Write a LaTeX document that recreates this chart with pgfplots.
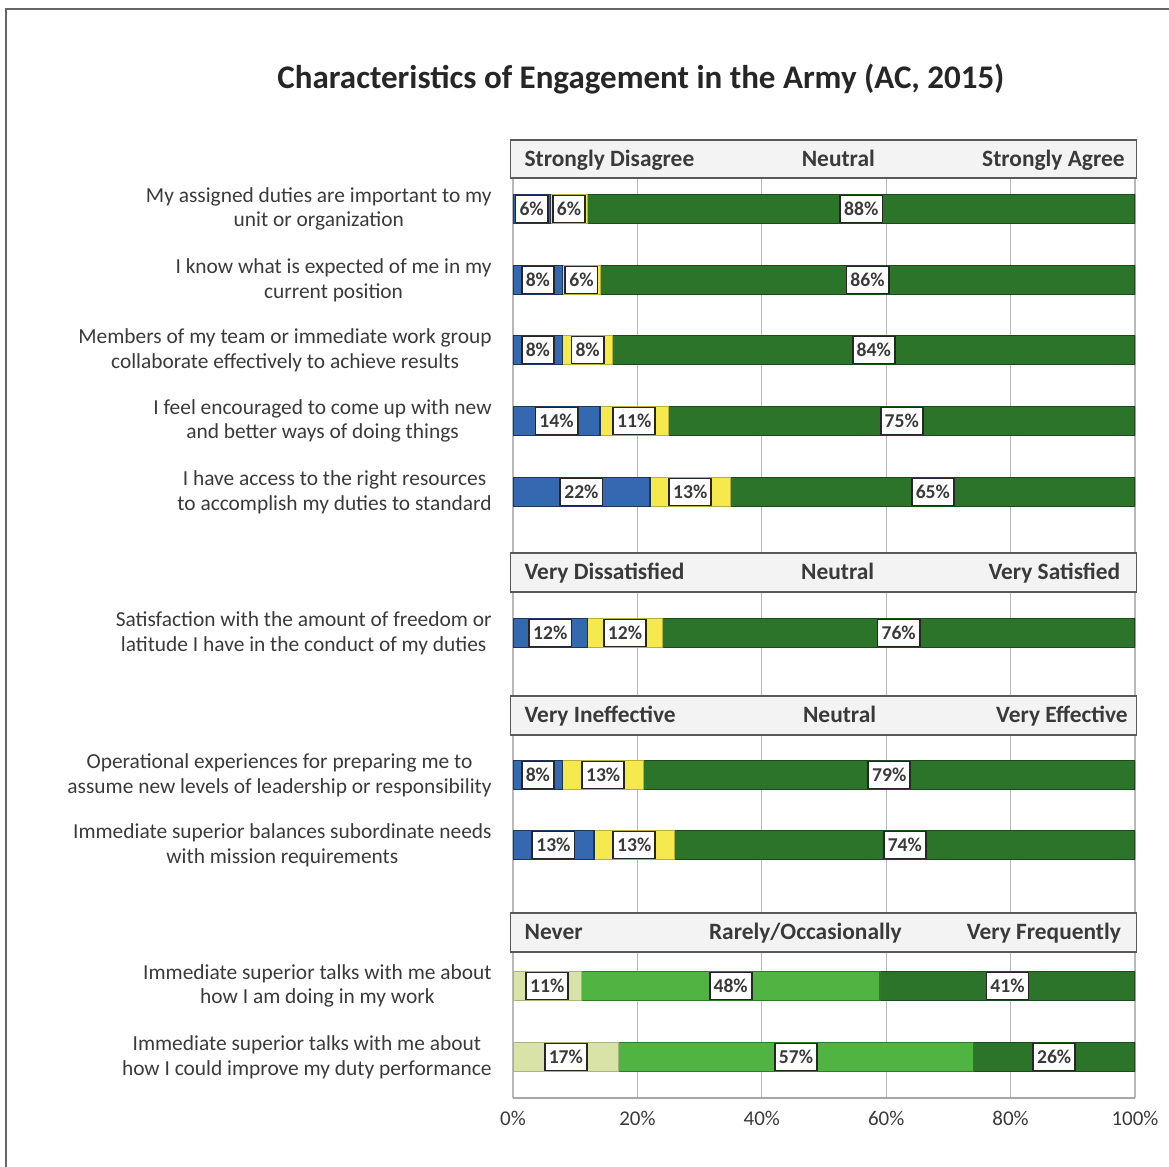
\documentclass[border=0pt]{standalone}
\usepackage{fontspec}
\setmainfont{Carlito}
\usepackage{pgfplots}
\usepackage{pgfplotstable}
\pgfplotsset{compat=1.18}

\definecolor{cblue}{HTML}{3469B2}
\definecolor{cblueD}{HTML}{1F3558}
\definecolor{cyel}{HTML}{F6E94E}
\definecolor{cyelD}{HTML}{B8AE3A}
\definecolor{cgreen}{HTML}{2D742B}
\definecolor{cgreenD}{HTML}{1C4A1B}
\definecolor{cmid}{HTML}{4FB441}
\definecolor{cmidD}{HTML}{2F7A2A}
\definecolor{cpale}{HTML}{D9E3A8}
\definecolor{cpaleD}{HTML}{A8B47C}
\definecolor{txt}{HTML}{3A3A3A}
\definecolor{hdrfill}{HTML}{F3F3F3}
\definecolor{hdrline}{HTML}{5A5A5A}

\pgfplotstableread{
y a b c
-209 6 6 88
-280 8 6 86
-350 8 8 84
-421 14 11 75
-492 22 13 65
-633 12 12 76
-775 8 13 79
-845 13 13 74
}\agree

\pgfplotstableread{
y a b c
-986 11 48 41
-1057 17 57 26
}\freq

\pgfplotsset{
  geom/.style={anchor=north west, at={(256.5pt,-70pt)}, scale only axis,
    width=311pt, height=479pt, xmin=0, xmax=100, ymin=-1098, ymax=-140},
}
\tikzset{
  lbl/.style={anchor=center, fill=white, draw=black!85, line width=0.9pt,
    inner xsep=2pt, inner ysep=0pt, minimum height=13.5pt,
    font=\bfseries\fontsize{9.8}{10}\selectfont, text=txt},
  hdr/.style={fill=hdrfill, draw=hdrline, line width=0.6pt},
  hfont/.style={font=\bfseries\fontsize{11.7}{12}\selectfont, text=txt, inner sep=0pt},
  cat/.style={anchor=east, align=center, text=txt, inner sep=0pt,
    font=\fontsize{10.7}{12.3}\selectfont},
}

\begin{document}
\begin{tikzpicture}
\useasboundingbox (0,0) rectangle (584.5pt,-583.5pt);

% Axis A: grid, ticks, agreement bars
\begin{axis}[geom,
  xbar stacked, bar width=14.5pt,
  axis x line=bottom, axis y line=none,
  x axis line style={-, draw=gray!70, line width=0.6pt},
  xmajorgrids, grid style={gray!55, line width=0.6pt},
  xtick={0,20,40,60,80,100},
  xticklabels={0\%,20\%,40\%,60\%,80\%,100\%},
  major tick length=0pt,
  xticklabel style={font=\fontsize{10.5}{11}\selectfont, text=txt, yshift=-3pt},
  ytick=\empty,
]
\addplot[fill=cblue, draw=cblueD, line width=0.7pt] table[x=a, y=y]{\agree};
\addplot[fill=cyel, draw=cyelD, line width=0.5pt] table[x=b, y=y]{\agree};
\addplot[fill=cgreen, draw=cgreenD, line width=0.7pt] table[x=c, y=y]{\agree};
\end{axis}

% Axis B: frequency bars
\begin{axis}[geom, hide axis, xbar stacked, bar width=14.5pt]
\addplot[fill=cpale, draw=cpaleD, line width=0.5pt] table[x=a, y=y]{\freq};
\addplot[fill=cmid, draw=cmidD, line width=0.7pt] table[x=b, y=y]{\freq};
\addplot[fill=cgreen, draw=cgreenD, line width=0.7pt] table[x=c, y=y]{\freq};
\end{axis}

% Axis C: headers and value labels
\begin{axis}[geom, hide axis, clip=false]
\draw[hdr] (axis cs:-0.4,-140) rectangle (axis cs:100.3,-178);
\draw[hdr] (axis cs:-0.4,-553) rectangle (axis cs:100.3,-592);
\draw[hdr] (axis cs:-0.4,-696) rectangle (axis cs:100.3,-735);
\draw[hdr] (axis cs:-0.4,-913) rectangle (axis cs:100.3,-952);

\node[hfont, anchor=base west] at (axis cs:1.8,-166.5) {Strongly Disagree};
\node[hfont, anchor=base] at (axis cs:52.3,-166.5) {Neutral};
\node[hfont, anchor=base east] at (axis cs:98.4,-166.5) {Strongly Agree};

\node[hfont, anchor=base west] at (axis cs:1.8,-579.5) {Very Dissatisfied};
\node[hfont, anchor=base] at (axis cs:52.2,-579.5) {Neutral};
\node[hfont, anchor=base east] at (axis cs:97.7,-579.5) {Very Satisfied};

\node[hfont, anchor=base west] at (axis cs:1.8,-722.5) {Very Ineffective};
\node[hfont, anchor=base] at (axis cs:52.5,-722.5) {Neutral};
\node[hfont, anchor=base east] at (axis cs:98.9,-722.5) {Very Effective};

\node[hfont, anchor=base west] at (axis cs:1.8,-939.5) {Never};
\node[hfont, anchor=base] at (axis cs:47,-939.5) {Rarely/Occasionally};
\node[hfont, anchor=base east] at (axis cs:97.8,-939.5) {Very Frequently};

\addplot[draw=none, point meta=explicit symbolic, nodes near coords={\pgfplotspointmeta\%},
  every node near coord/.append style={lbl}]
  table[x expr=\thisrow{a}/2, y=y, meta=a]{\agree};
\addplot[draw=none, point meta=explicit symbolic, nodes near coords={\pgfplotspointmeta\%},
  every node near coord/.append style={lbl}]
  table[x expr=\thisrow{a}+\thisrow{b}/2, y=y, meta=b]{\agree};
\addplot[draw=none, point meta=explicit symbolic, nodes near coords={\pgfplotspointmeta\%},
  every node near coord/.append style={lbl}]
  table[x expr=\thisrow{a}+\thisrow{b}+\thisrow{c}/2, y=y, meta=c]{\agree};
\addplot[draw=none, point meta=explicit symbolic, nodes near coords={\pgfplotspointmeta\%},
  every node near coord/.append style={lbl}]
  table[x expr=\thisrow{a}/2, y=y, meta=a]{\freq};
\addplot[draw=none, point meta=explicit symbolic, nodes near coords={\pgfplotspointmeta\%},
  every node near coord/.append style={lbl}]
  table[x expr=\thisrow{a}+\thisrow{b}/2, y=y, meta=b]{\freq};
\addplot[draw=none, point meta=explicit symbolic, nodes near coords={\pgfplotspointmeta\%},
  every node near coord/.append style={lbl}]
  table[x expr=\thisrow{a}+\thisrow{b}+\thisrow{c}/2, y=y, meta=c]{\freq};
\end{axis}

\begin{scope}[x=0.5pt, y=-0.5pt]
\draw[gray!80!black, line width=1pt] (6,1170) -- (6,9) -- (1172,9);
\node[anchor=base, font=\bfseries\fontsize{16.5}{18}\selectfont, text=black!85] at (641,89)
  {Characteristics of Engagement in the Army (AC, 2015)};
\node[cat] at (492,209) {My assigned duties are important to my\\unit or organization};
\node[cat] at (492,280) {I know what is expected of me in my\\current position};
\node[cat] at (492,350) {Members of my team or immediate work group\\collaborate effectively to achieve results};
\node[cat] at (492,421) {I feel encouraged to come up with new\\and better ways of doing things};
\node[cat] at (492,492) {I have access to the right resources\\to accomplish my duties to standard};
\node[cat] at (492,633) {Satisfaction with the amount of freedom or\\latitude I have in the conduct of my duties};
\node[cat] at (492,775) {Operational experiences for preparing me to\\assume new levels of leadership or responsibility};
\node[cat] at (492,845) {Immediate superior balances subordinate needs\\with mission requirements};
\node[cat] at (492,986) {Immediate superior talks with me about\\how I am doing in my work};
\node[cat] at (492,1057) {Immediate superior talks with me about\\how I could improve my duty performance};
\end{scope}
\end{tikzpicture}
\end{document}
